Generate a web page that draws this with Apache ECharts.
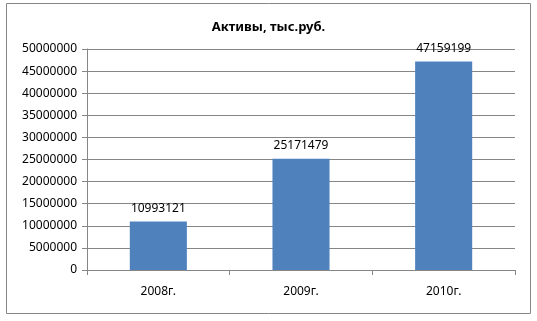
<!DOCTYPE html>
<html><head><meta charset="utf-8">
<script src="https://cdn.jsdelivr.net/npm/echarts@6/dist/echarts.min.js"></script>
<style>html,body{margin:0;padding:0;background:#fff}#c{width:537px;height:321px}</style>
</head><body><div id="c"></div>
<script>
const categories = ['2008г.', '2009г.', '2010г.'];
const values = [10993121, 25171479, 47159199];
const chart = echarts.init(document.getElementById('c'));
chart.setOption({
  animation: false,
  backgroundColor: '#fff',
  graphic: [{type:'rect', shape:{x:6.5,y:3.5,width:524,height:310}, style:{fill:'none', stroke:'#868686', lineWidth:1}, silent:true}],
  title: {text:'Активы, тыс.руб.', left:'center', top:16, textStyle:{fontFamily:'Noto Sans', fontSize:13, fontWeight:'bold', color:'#000'}},
  grid: {left:87, right:22, top:49, bottom:51, containLabel:false},
  xAxis: {type:'category', data:categories,
    axisLine:{lineStyle:{color:'#868686'}},
    axisTick:{show:true, length:5, lineStyle:{color:'#868686'}},
    axisLabel:{color:'#000', fontFamily:'Noto Sans', fontSize:12, margin:16}},
  yAxis: {type:'value', min:0, max:50000000, interval:5000000,
    axisLine:{show:true, lineStyle:{color:'#868686'}},
    axisTick:{show:true, length:5, lineStyle:{color:'#868686'}},
    splitLine:{lineStyle:{color:'#868686'}},
    axisLabel:{color:'#000', fontFamily:'Noto Sans', fontSize:12, margin:10, formatter: v => String(v)}},
  series: [{type:'bar', data:values, barWidth:'40%', itemStyle:{color:'#4F81BD'},
    label:{show:true, position:'top', distance:7, color:'#000', fontFamily:'Noto Sans', fontSize:12, formatter: p => String(p.value)}}]
});
</script></body></html>
